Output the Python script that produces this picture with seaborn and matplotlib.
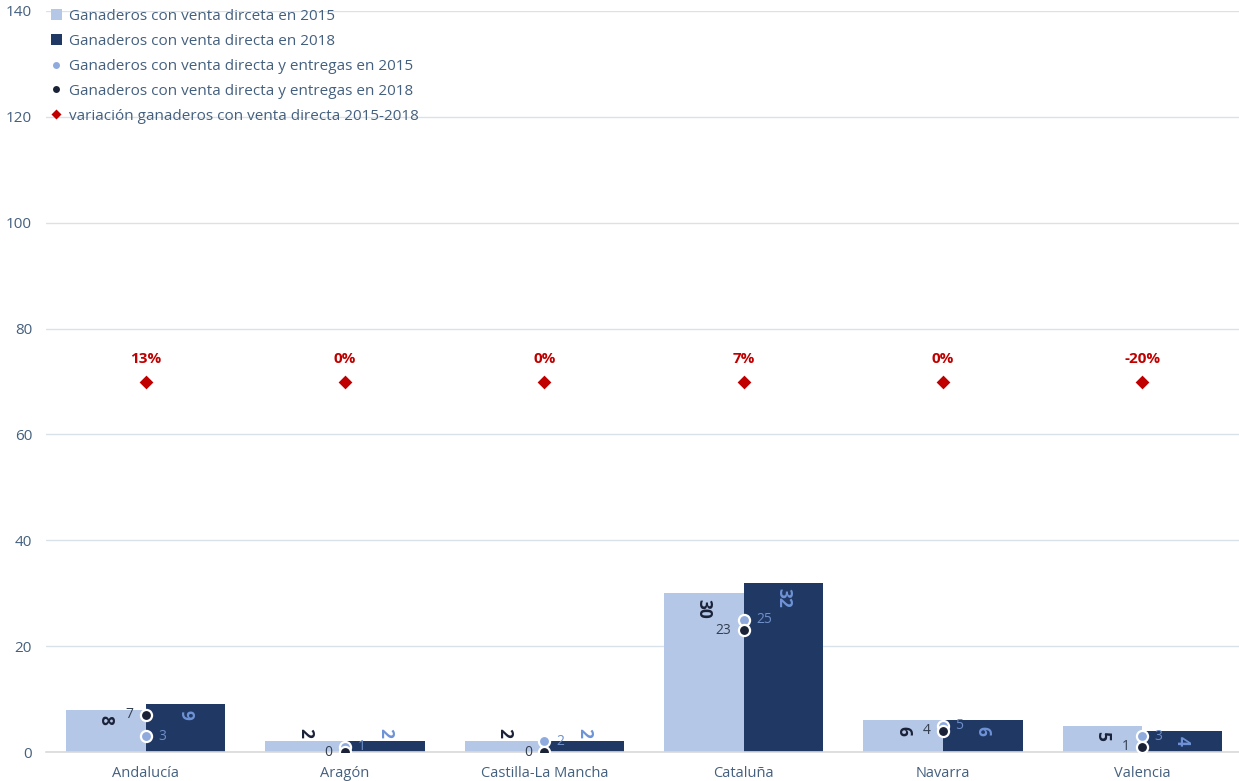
import matplotlib
matplotlib.use("Agg")
import matplotlib.pyplot as plt
import seaborn as sns
import pandas as pd
from matplotlib.lines import Line2D
from matplotlib.patches import Patch

regions = ["Andalucía", "Aragón", "Castilla-La Mancha", "Cataluña", "Navarra", "Valencia"]
venta_2015 = [8, 2, 2, 30, 6, 5]
venta_2018 = [9, 2, 2, 32, 6, 4]
entregas_2015 = [3, 1, 2, 25, 5, 3]
entregas_2018 = [7, 0, 0, 23, 4, 1]
variacion_pct = [13, 0, 0, 7, 0, -20]
variacion_nivel = [70, 70, 70, 70, 70, 70]
y_ticks = [0, 20, 40, 60, 80, 100, 120, 140]

lab_2015 = "Ganaderos con venta dirceta en 2015"
lab_2018 = "Ganaderos con venta directa en 2018"
lab_e15 = "Ganaderos con venta directa y entregas en 2015"
lab_e18 = "Ganaderos con venta directa y entregas en 2018"
lab_var = "variación ganaderos con venta directa 2015-2018"

C_LIGHT = "#B4C7E7"
C_DARK = "#203864"
C_DOT15 = "#8FAADC"
C_DOT18 = "#1A2238"
C_RED = "#C00000"
C_TEXT = "#44607F"
C_GRID = "#D9E2E8"

sns.set_theme(style="white")
plt.rcParams["font.family"] = ["Open Sans", "DejaVu Sans"]

bars = pd.DataFrame({
    "region": regions * 2,
    "serie": [lab_2015] * len(regions) + [lab_2018] * len(regions),
    "valor": venta_2015 + venta_2018,
})

fig = plt.figure(figsize=(12.39, 7.81), dpi=100)
ax = fig.add_axes([46 / 1239, 29 / 781, 1196 / 1239, 741 / 781])

sns.barplot(data=bars, x="region", y="valor", hue="serie", order=regions,
            hue_order=[lab_2015, lab_2018], palette=[C_LIGHT, C_DARK],
            width=0.8, saturation=1, linewidth=0, ax=ax, legend=False, zorder=2)

# bar labels (rotated, inside end; outside end when too small)
label_colors = [C_DOT18, "#6E93D6"]
px_per_unit = 741 / 140
for cont, col in zip(ax.containers, label_colors):
    for rect in cont:
        h = rect.get_height()
        txt = f"{int(h)}"
        need_px = 10 * len(txt) + 8
        xc = rect.get_x() + rect.get_width() / 2
        if h * px_per_unit >= need_px:
            ax.annotate(txt, (xc, h), xytext=(0, -4), textcoords="offset points",
                        ha="center", va="top", rotation=-90,
                        fontsize=12.5, fontweight="bold", color=col, zorder=5)
        else:
            ax.annotate(txt, (xc, h), xytext=(0, 2.5), textcoords="offset points",
                        ha="center", va="bottom", rotation=-90,
                        fontsize=12.5, fontweight="bold", color=col, zorder=5)

dots = pd.DataFrame({"region": regions, "e15": entregas_2015, "e18": entregas_2018,
                     "var": variacion_nivel})
sns.stripplot(data=dots, x="region", y="e15", order=regions, jitter=False,
              color=C_DOT15, size=8, linewidth=1.6, edgecolor="white", ax=ax, zorder=4)
sns.stripplot(data=dots, x="region", y="e18", order=regions, jitter=False,
              color=C_DOT18, size=8, linewidth=1.6, edgecolor="white", ax=ax, zorder=4)
sns.stripplot(data=dots, x="region", y="var", order=regions, jitter=False,
              color=C_RED, marker="D", size=7, linewidth=0, ax=ax, zorder=4)

for i, (a, b, v, lvl) in enumerate(zip(entregas_2015, entregas_2018, variacion_pct, variacion_nivel)):
    ax.annotate(f"{a}", (i, a), xytext=(9, 0), textcoords="offset points",
                ha="left", va="center", fontsize=10, color="#6F8FC9", zorder=5)
    ax.annotate(f"{b}", (i, b), xytext=(-9, 0), textcoords="offset points",
                ha="right", va="center", fontsize=10, color="#333F50", zorder=5)
    ax.annotate(f"{v}%", (i, lvl), xytext=(0, 11.5), textcoords="offset points",
                ha="center", va="bottom", fontsize=11, fontweight="bold", color=C_RED, zorder=5)

ax.set_xlim(-0.5, len(regions) - 0.5)
ax.set_ylim(0, 140)
ax.set_yticks(y_ticks)
ax.set_yticklabels([str(t) for t in y_ticks])
ax.set_xlabel("")
ax.set_ylabel("")
ax.yaxis.grid(True, color=C_GRID, linewidth=1, zorder=0)
ax.set_axisbelow(True)
for s in ["left", "right", "top"]:
    ax.spines[s].set_visible(False)
ax.spines["bottom"].set_color("#D9D9D9")
ax.spines["bottom"].set_linewidth(1.2)
ax.tick_params(axis="y", length=0, pad=10, labelsize=11, labelcolor=C_TEXT)
ax.tick_params(axis="x", length=0, pad=10, labelsize=10.5, labelcolor=C_TEXT)

handles = [
    Patch(facecolor=C_LIGHT, edgecolor="none", label=lab_2015),
    Patch(facecolor=C_DARK, edgecolor="none", label=lab_2018),
    Line2D([], [], marker="o", linestyle="none", markersize=5, markerfacecolor=C_DOT15,
           markeredgecolor="none", label=lab_e15),
    Line2D([], [], marker="o", linestyle="none", markersize=5, markerfacecolor=C_DOT18,
           markeredgecolor="none", label=lab_e18),
    Line2D([], [], marker="D", linestyle="none", markersize=5, markerfacecolor=C_RED,
           markeredgecolor="none", label=lab_var),
]
leg = fig.legend(handles=handles, loc="upper left", bbox_to_anchor=(51 / 1239, 1 - 9 / 781),
                 frameon=False, fontsize=11, labelcolor=C_TEXT, handlelength=0.7,
                 handleheight=0.7, handletextpad=0.45, labelspacing=0.65,
                 borderpad=0, borderaxespad=0)

fig.savefig("out.png", dpi=100)
